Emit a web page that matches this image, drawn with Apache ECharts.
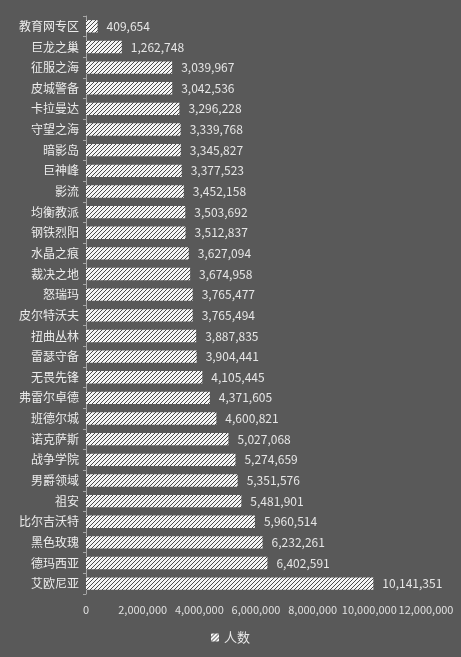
<!DOCTYPE html>
<html>
<head>
<meta charset="utf-8">
<script src="https://cdn.jsdelivr.net/npm/echarts@6/dist/echarts.min.js"></script>
<style>
html,body{margin:0;padding:0;background:#595959;}
#chart{width:461px;height:657px;}
</style>
</head>
<body>
<div id="chart"></div>
<script>
const categories = ['教育网专区','巨龙之巢','征服之海','皮城警备','卡拉曼达','守望之海','暗影岛','巨神峰','影流','均衡教派','钢铁烈阳','水晶之痕','裁决之地','怒瑞玛','皮尔特沃夫','扭曲丛林','雷瑟守备','无畏先锋','弗雷尔卓德','班德尔城','诺克萨斯','战争学院','男爵领域','祖安','比尔吉沃特','黑色玫瑰','德玛西亚','艾欧尼亚'];
const people = [409654,1262748,3039967,3042536,3296228,3339768,3345827,3377523,3452158,3503692,3512837,3627094,3674958,3765477,3765494,3887835,3904441,4105445,4371605,4600821,5027068,5274659,5351576,5481901,5960514,6232261,6402591,10141351];
const seriesName = '人数';

// 斜线填充
function makeHatch(){
    const c = document.createElement('canvas');
    c.width = 4; c.height = 4;
    const ctx = c.getContext('2d');
    ctx.fillStyle = '#f4f4f4';
    ctx.fillRect(0,0,4,4);
    ctx.strokeStyle = '#4a4a4a';
    ctx.lineWidth = 1;
    ctx.beginPath();
    ctx.moveTo(0,4); ctx.lineTo(4,0);
    ctx.moveTo(-1,1); ctx.lineTo(1,-1);
    ctx.moveTo(3,5); ctx.lineTo(5,3);
    ctx.stroke();
    return c;
}
const hatch = {image: makeHatch(), repeat: 'repeat'};

const fmt = v => v.toLocaleString('en-US');
const font = '"Noto Sans CJK SC", sans-serif';

const myChart = echarts.init(document.querySelector('#chart'));
const option = {
    backgroundColor: '#595959',
    textStyle: {fontFamily: font},
    grid: {left: 86, right: 35, top: 16, bottom: 63, containLabel: false},
    legend: {
        bottom: 8,
        left: 'center',
        itemWidth: 8,
        itemHeight: 8,
        itemGap: 4,
        icon: 'rect',
        textStyle: {color: '#e8e8e8', fontSize: 13, fontFamily: font},
        data: [seriesName]
    },
    xAxis: {
        type: 'value',
        min: 0,
        max: 12000000,
        interval: 2000000,
        axisLine: {show: false},
        axisTick: {show: false},
        splitLine: {show: false},
        axisLabel: {
            color: '#e0e0e0',
            fontSize: 11,
            margin: 10,
            showMinLabel: true,
            showMaxLabel: true,
            hideOverlap: false,
            formatter: v => fmt(v),
            fontFamily: font
        }
    },
    yAxis: {
        type: 'category',
        inverse: true,
        data: categories,
        axisLine: {show: true, lineStyle: {color: '#a6a6a6', width: 1}},
        axisTick: {show: true, length: 3, lineStyle: {color: '#a6a6a6'}},
        axisLabel: {color: '#ececec', fontSize: 12, margin: 7, fontFamily: font}
    },
    series: [{
        name: seriesName,
        type: 'bar',
        data: people,
        barCategoryGap: '40%',
        itemStyle: {color: hatch},
        label: {
            show: true,
            position: 'right',
            distance: 9,
            color: '#e6e6e6',
            fontSize: 12,
            fontFamily: font,
            formatter: p => fmt(p.value)
        }
    }]
};
myChart.setOption(option);
</script>
</body>
</html>
